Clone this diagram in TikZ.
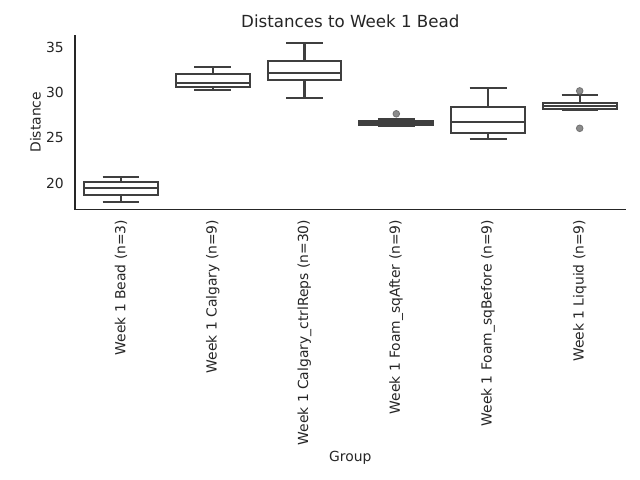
\documentclass[tikz,border=0pt]{standalone}
\usepackage{fontspec}
\setmainfont{DejaVu Sans}
\definecolor{boxc}{RGB}{63,63,63}
\definecolor{txt}{RGB}{38,38,38}
\definecolor{flier}{RGB}{140,140,140}
\definecolor{flieredge}{RGB}{115,115,115}
\tikzset{
  boxline/.style={draw=boxc, line width=1.5pt, line cap=butt, line join=miter},
  spine/.style={draw=txt, line width=0.9pt},
  ticklab/.style={text=txt, font=\fontsize{10}{12}\selectfont, inner sep=0pt},
  catlab/.style={text=txt, font=\fontsize{10}{12}\selectfont, inner sep=0pt, rotate=90, anchor=east},
  fliermark/.style={fill=flier, draw=flieredge, line width=0.6pt},
}
% \bxp{center x}{whisker top}{q3}{median}{q1}{whisker bottom}
\newcommand{\bxp}[6]{%
  \draw[boxline] (#1,#2) -- (#1,#3);
  \draw[boxline] (#1,#5) -- (#1,#6);
  \draw[boxline] (#1-18.4,#2) -- (#1+18.4,#2);
  \draw[boxline] (#1-18.4,#6) -- (#1+18.4,#6);
  \draw[boxline, fill=white] (#1-36.9,#3) rectangle (#1+36.9,#5);
  \draw[boxline] (#1-36.9,#4) -- (#1+36.9,#4);
}
\begin{document}
\begin{tikzpicture}[x=0.72pt, y=-0.72pt]
\useasboundingbox (0,0) rectangle (640,480);
\fill[white] (0,0) rectangle (640,480);
% spines
\coordinate (tl) at (75,35);
\coordinate (bl) at (75,209.3);
\coordinate (br) at (625.7,209.3);
\draw[spine] (tl) -- (bl) -- (br);
% y tick labels
\node[ticklab, anchor=east] (y35) at (64,47.0) {35};
\node[ticklab, anchor=east] (y30) at (64,92.3) {30};
\node[ticklab, anchor=east] (y25) at (64,137.7) {25};
\node[ticklab, anchor=east] (y20) at (64,183.0) {20};
% boxes
\bxp{120.9}{176.7}{181.7}{187.7}{194.7}{201.7}
\bxp{212.7}{66.7}{74.0}{82.7}{87.0}{90.0}
\bxp{304.5}{42.7}{61.0}{72.7}{80.0}{97.7}
\bxp{396.3}{118.7}{121.0}{123.0}{124.8}{126.0}
\bxp{488.1}{87.7}{106.7}{121.7}{132.7}{138.7}
\bxp{579.9}{94.7}{102.7}{105.8}{108.7}{110.0}
% fliers
\path[fliermark] (396.3,113.8) circle[radius=3.3];
\path[fliermark] (579.7,90.9) circle[radius=3.3];
\path[fliermark] (579.7,128.3) circle[radius=3.3];
% category labels
\node[catlab] (c1) at (120.9,219.5) {Week 1 Bead (n=3)};
\node[catlab] (c2) at (212.7,219.5) {Week 1 Calgary (n=9)};
\node[catlab] (c3) at (304.5,219.5) {Week 1 Calgary\_ctrlReps (n=30)};
\node[catlab] (c4) at (396.3,219.5) {Week 1 Foam\_sqAfter (n=9)};
\node[catlab] (c5) at (488.1,219.5) {Week 1 Foam\_sqBefore (n=9)};
\node[catlab] (c6) at (579.9,219.5) {Week 1 Liquid (n=9)};
% axis labels and title
\node[ticklab] (xl) at (350.3,457.5) {Group};
\node[ticklab, rotate=90] (yl) at (35.5,122.2) {Distance};
\node[text=txt, inner sep=0pt, font=\fontsize{12}{14}\selectfont] (title) at (350.3,21.5) {Distances to Week 1 Bead};
\end{tikzpicture}
\end{document}
